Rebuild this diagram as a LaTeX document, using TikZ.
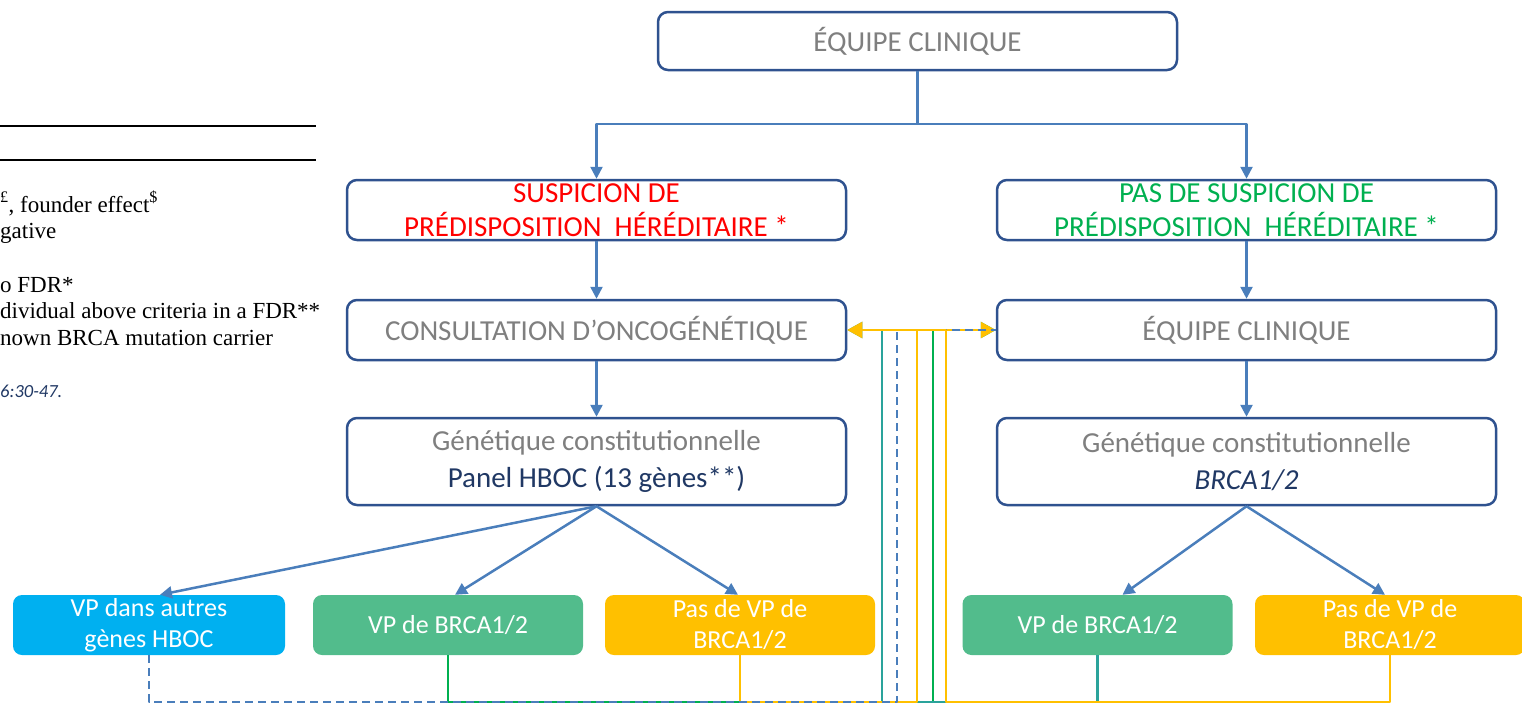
\documentclass[tikz,border=0pt]{standalone}
\usepackage{fontspec}
\setmainfont{Carlito}
\newfontfamily\tablefont{Liberation Serif}
\usetikzlibrary{arrows.meta}
\definecolor{boxblue}{HTML}{2F528F}
\definecolor{linkblue}{HTML}{4A7EBB}
\definecolor{txtgrey}{HTML}{7F7F7F}
\definecolor{txtnavy}{HTML}{203864}
\definecolor{txtred}{HTML}{FF0000}
\definecolor{txtgreen}{HTML}{00B050}
\definecolor{vpcyan}{HTML}{00B0F0}
\definecolor{vpgreen}{HTML}{52BC8C}
\definecolor{vpyellow}{HTML}{FFC000}
\definecolor{vpteal}{HTML}{2AA39B}
\tikzset{
  stage/.style={draw=boxblue, line width=2.5pt, rounded corners=10pt, minimum width=499pt,
    minimum height=60pt, align=center, text=txtgrey, inner sep=0pt, font=\fontsize{29}{34}\selectfont},
  result/.style={rounded corners=9pt, minimum width=270pt, minimum height=60pt, align=center,
    text=white, inner sep=0pt, font=\fontsize{26}{31}\selectfont},
  link/.style={draw=linkblue, line width=2.5pt, -{Triangle[length=12pt,width=12pt]}},
  feed/.style={line width=2.2pt, -{Triangle[length=15pt,width=16pt]}},
  frag/.style={anchor=base west, inner sep=0pt, font=\tablefont\fontsize{23}{26}\selectfont},
}
\begin{document}
\begin{tikzpicture}[x=1pt, y=-1pt, line join=round]
  \useasboundingbox (0,0) rectangle (1522,704);
  \draw[line width=2pt] (0,126) -- (316,126);
  \draw[line width=2pt] (0,160) -- (316,160);
  \node[frag] (note1) at (0,212) {\textsuperscript{£}, founder effect\textsuperscript{\$}};
  \node[frag] (note2) at (0,238) {gative};
  \node[frag] (note3) at (0,292) {o FDR*};
  \node[frag] (note4) at (0,318) {dividual above criteria in a FDR**};
  \node[frag] (note5) at (0,345) {nown BRCA mutation carrier};
  \node[anchor=base west, inner sep=0pt, text=txtnavy, font=\itshape\fontsize{18.5}{22}\selectfont] (ref) at (0,397) {6:30-47.};

  \node[stage, minimum width=519pt, minimum height=58pt] (team) at (917.5,41) {ÉQUIPE CLINIQUE};
  \node[stage, text=txtred] (susp) at (596.5,210) {SUSPICION DE\\PRÉDISPOSITION\ \ HÉRÉDITAIRE *};
  \node[stage, text=txtgreen] (nosusp) at (1246.5,210) {PAS DE SUSPICION DE\\PRÉDISPOSITION\ \ HÉRÉDITAIRE *};
  \node[stage] (consult) at (596.5,330) {CONSULTATION D’ONCOGÉNÉTIQUE};
  \node[stage] (team2) at (1246.5,330) {ÉQUIPE CLINIQUE};
  \node[stage, minimum height=87pt, font=\fontsize{29}{37}\selectfont] (panel) at (596.5,461.5)
    {Génétique constitutionnelle\\\textcolor{txtnavy}{Panel HBOC (13 gènes**)}};
  \node[stage, minimum height=87pt, font=\fontsize{29}{37}\selectfont] (brca) at (1246.5,461.5)
    {Génétique constitutionnelle\\\textcolor{txtnavy}{\itshape BRCA1/2}};

  \node[result, fill=vpcyan, minimum width=272pt] (autres) at (149,625) {VP dans autres\\gènes HBOC};
  \node[result, fill=vpgreen] (vpa) at (448,625) {VP de BRCA1/2};
  \node[result, fill=vpyellow] (pasa) at (740,625) {Pas de VP de\\BRCA1/2};
  \node[result, fill=vpgreen] (vpb) at (1097.5,625) {VP de BRCA1/2};
  \node[result, fill=vpyellow] (pasb) at (1390,625) {Pas de VP de\\BRCA1/2};

  \coordinate (split) at (917.5,124);
  \draw[link, -] (team.south) -- (split);
  \draw[link] (split) -| (susp.north);
  \draw[link] (split) -| (nosusp.north);
  \draw[link] (susp) -- (consult);
  \draw[link] (nosusp) -- (team2);
  \draw[link] (consult) -- (panel);
  \draw[link] (team2) -- (brca);
  \draw[link] (panel.south) -- ([xshift=11pt]autres.north);
  \draw[link] (panel.south) -- ([xshift=7pt]vpa.north);
  \draw[link] (panel.south) -- ([xshift=-2pt]pasa.north);
  \draw[link] (brca.south) -- ([xshift=25pt]vpb.north);
  \draw[link] (brca.south) -- ([xshift=-5pt]pasb.north);

  \coordinate (riseT) at (882,702);
  \coordinate (riseB) at (897,702);
  \coordinate (riseYa) at (917,702);
  \coordinate (riseG) at (933,702);
  \coordinate (riseYb) at (946,702);
  \draw[feed, draw=txtgreen] (vpa.south) |- (riseG) |- (team2.west);
  \draw[feed, draw=vpteal] (vpb.south) |- (riseT) |- (consult.east);
  \draw[feed, draw=vpyellow] (pasa.south) |- (riseYa) |- (team2.west);
  \draw[line width=2.2pt, draw=linkblue, dash pattern=on 8pt off 5pt] (autres.south) |- (riseB) |- (team2.west);
  \draw[feed, draw=vpyellow] (pasb.south) |- (riseYb) |- (consult.east);
\end{tikzpicture}
\end{document}
